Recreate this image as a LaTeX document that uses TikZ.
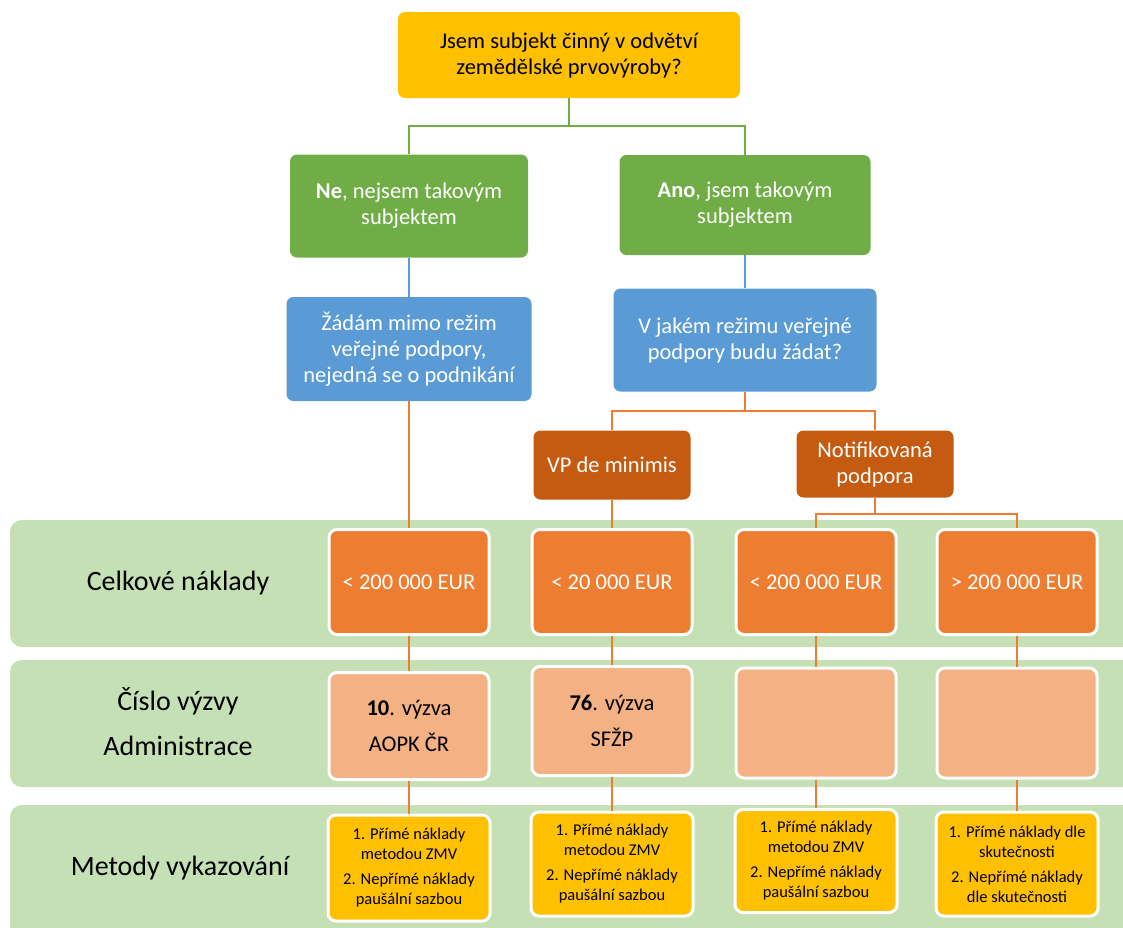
\documentclass[tikz,border=0pt]{standalone}
\usepackage{fontspec}
\setmainfont{Carlito}
\definecolor{zluta}{HTML}{FFC000}
\definecolor{zelena}{HTML}{70AD47}
\definecolor{modra}{HTML}{5B9BD5}
\definecolor{hneda}{HTML}{C55A11}
\definecolor{oranz}{HTML}{ED7D31}
\definecolor{svoranz}{HTML}{F4B183}
\definecolor{pas}{HTML}{C5E0B4}
\begin{document}
\begin{tikzpicture}[x=1pt,y=-1pt]
      \useasboundingbox (0,0) rectangle (1123,927);

      % pasy radku
      \fill[pas, rounded corners=12pt] (10,520) rectangle (1150,647);
      \fill[pas, rounded corners=12pt] (10,660) rectangle (1150,787);
      \fill[pas, rounded corners=12pt] (10,805) rectangle (1150,950);

      \begin{scope}[every node/.style={align=center, font=\fontsize{28}{45}\selectfont}]
        \node (celk)   at (178,583) {Celkové náklady};
        \node (cislo)  at (178,722) {Číslo výzvy\\Administrace};
        \node (metody) at (180,868) {Metody vykazování};
      \end{scope}

      \begin{scope}[every node/.style={rounded corners=7pt, align=center, inner sep=0pt,
          text=white, font=\fontsize{22.5}{26}\selectfont}]
        \node[fill=zluta, text=black, minimum width=342pt, minimum height=86pt] (q) at (569,55)
          {Jsem subjekt činný v odvětví\\zemědělské prvovýroby?};
        \node[fill=zelena, minimum width=238pt, minimum height=103pt] (ne)  at (409,206)
          {\textbf{Ne}, nejsem takovým\\subjektem};
        \node[fill=zelena, minimum width=251pt, minimum height=100pt] (ano) at (745,205)
          {\textbf{Ano}, jsem takovým\\subjektem};
        \node[fill=modra, minimum width=245pt, minimum height=104pt] (mimo)  at (409,349)
          {Žádám mimo režim\\veřejné podpory,\\nejedná se o podnikání};
        \node[fill=modra, minimum width=263pt, minimum height=103pt] (rezim) at (745,340)
          {V jakém režimu veřejné\\podpory budu žádat?};
        \node[fill=hneda, minimum width=157pt, minimum height=69pt] (minimis) at (612,465)
          {VP de minimis};
        \node[fill=hneda, minimum width=157pt, minimum height=67pt] (notif)   at (875,464)
          {Notifikovaná\\podpora};
      \end{scope}

      \begin{scope}[every node/.style={draw=white, line width=3pt, rounded corners=8pt,
          align=center, inner sep=0pt, minimum width=160pt,
          font=\fontsize{22.5}{26}\selectfont}]
        \node[fill=oranz, text=white, minimum height=105pt] (c1) at (409,582)  {< 200 000 EUR};
        \node[fill=oranz, text=white, minimum height=105pt] (c2) at (612,582)  {< 20 000 EUR};
        \node[fill=oranz, text=white, minimum height=105pt] (c3) at (816,582)  {< 200 000 EUR};
        \node[fill=oranz, text=white, minimum height=105pt] (c4) at (1017,582) {> 200 000 EUR};

        \node[fill=svoranz, minimum height=107pt] (v1) at (409,726)  {\textbf{10}. výzva\\[10pt]AOPK ČR};
        \node[fill=svoranz, minimum height=109pt] (v2) at (612,721)  {\textbf{76}. výzva\\[10pt]SFŽP};
        \node[fill=svoranz, minimum height=110pt] (v3) at (816,723)  {};
        \node[fill=svoranz, minimum height=110pt] (v4) at (1017,723) {};
      \end{scope}

      \begin{scope}[every node/.style={draw=white, line width=3pt, rounded corners=8pt,
          align=center, inner sep=0pt, minimum width=162pt, fill=zluta,
          font=\fontsize{16.5}{20}\selectfont}]
        \node[minimum height=106pt] (m1) at (409,868)  {1. Přímé náklady\\metodou ZMV\\[5pt]2. Nepřímé náklady\\paušální sazbou};
        \node[minimum height=104pt] (m2) at (612,864)  {1. Přímé náklady\\metodou ZMV\\[5pt]2. Nepřímé náklady\\paušální sazbou};
        \node[minimum height=103pt] (m3) at (816,861)  {1. Přímé náklady\\metodou ZMV\\[5pt]2. Nepřímé náklady\\paušální sazbou};
        \node[minimum height=104pt] (m4) at (1017,864) {1. Přímé náklady dle\\skutečnosti\\[5pt]2. Nepřímé náklady\\dle skutečnosti};
      \end{scope}

      % spojnice
      \coordinate (j1) at (569,126);
      \coordinate (j2) at (745,411);
      \coordinate (j3) at (875,514);

      \begin{scope}[line width=2pt]
        \draw[zelena] (q.south) -- (j1) -| (ne.north);
        \draw[zelena] (j1) -| (ano.north);
        \draw[modra] (ne) -- (mimo);
        \draw[modra] (ano) -- (rezim);
        \draw[oranz] (rezim.south) -- (j2) -| (minimis.north);
        \draw[oranz] (j2) -| (notif.north);
        \draw[oranz] (notif.south) -- (j3) -| (c3.north);
        \draw[oranz] (j3) -| (c4.north);
        \draw[oranz] (mimo) -- (c1);
        \draw[oranz] (minimis) -- (c2);
        \draw[oranz] (c1) -- (v1);
        \draw[oranz] (c2) -- (v2);
        \draw[oranz] (c3) -- (v3);
        \draw[oranz] (c4) -- (v4);
        \draw[oranz] (v1) -- (m1);
        \draw[oranz] (v2) -- (m2);
        \draw[oranz] (v3) -- (m3);
        \draw[oranz] (v4) -- (m4);
      \end{scope}

    \end{tikzpicture}
\end{document}
